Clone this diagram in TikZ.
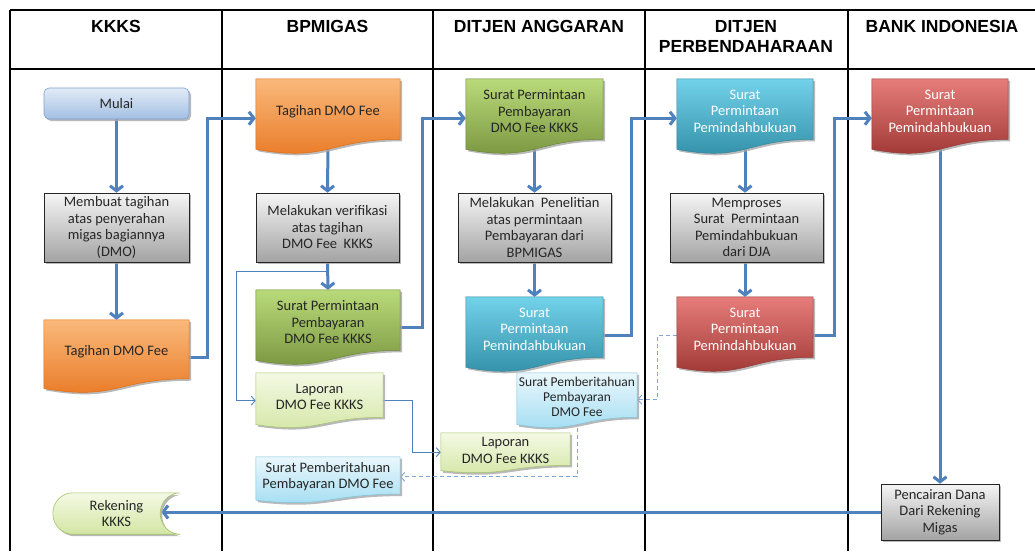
\documentclass[tikz,border=0pt]{standalone}
\usepackage{fontspec}
\setmainfont{Carlito}
\newfontfamily\hdrfont{Liberation Sans}
\usetikzlibrary{arrows.meta,calc,shadows}
\pgfdeclarelayer{bg}\pgfdeclarelayer{shp}
\pgfsetlayers{bg,shp,main}
\definecolor{flowblue}{HTML}{4F81BD}
\definecolor{dashblue}{HTML}{7EA6DC}
\definecolor{orT}{HTML}{FAB97B}\definecolor{orM}{HTML}{F79646}\definecolor{orB}{HTML}{E87722}\definecolor{orD}{HTML}{E46C0A}
\definecolor{grT}{HTML}{B9DA7A}\definecolor{grM}{HTML}{9BBB59}\definecolor{grB}{HTML}{76923C}\definecolor{grD}{HTML}{6A8535}
\definecolor{tlT}{HTML}{72D2EA}\definecolor{tlM}{HTML}{4BACC6}\definecolor{tlB}{HTML}{2E8BA4}\definecolor{tlD}{HTML}{31859C}
\definecolor{rdT}{HTML}{E67D7A}\definecolor{rdM}{HTML}{C0504D}\definecolor{rdB}{HTML}{9A3330}\definecolor{rdD}{HTML}{953735}
\definecolor{lgT}{HTML}{F4F9E4}\definecolor{lgB}{HTML}{D3E6A4}\definecolor{lgD}{HTML}{A4C46A}
\definecolor{lbT}{HTML}{EAF7FC}\definecolor{lbB}{HTML}{9FDCF2}\definecolor{lbD}{HTML}{7FC3DC}
\definecolor{mbT}{HTML}{E2EBF7}\definecolor{mbB}{HTML}{A3BFE3}\definecolor{mbD}{HTML}{7FA0CF}
\definecolor{shadowc}{HTML}{A8A8A8}
\tikzset{
  hdr/.style={font=\hdrfont\bfseries\fontsize{17.5}{20}\selectfont, align=center, inner sep=0pt},
  txt/.style={font=\fontsize{14.5}{16.5}\selectfont, align=center, inner sep=0pt, text=black!85},
  procbox/.style={txt, draw=black!85, line width=0.6pt, top color=black!4, bottom color=black!36,
      drop shadow={shadow xshift=2pt, shadow yshift=-2pt, fill=shadowc, opacity=0.8}},
  startbox/.style={txt, draw=mbD, line width=0.6pt, rounded corners=5pt, top color=mbT, bottom color=mbB,
      drop shadow={shadow xshift=2pt, shadow yshift=-2pt, fill=shadowc, opacity=0.8}},
  docnode/.style={txt},
  whitetxt/.style={text=white},
  smalltxt/.style={font=\fontsize{13.5}{15}\selectfont},
  flow/.style={draw=flowblue, line width=3pt, -{Straight Barb[length=5pt,width=13pt]}},
  thinflow/.style={draw=flowblue, line width=0.9pt, -{Straight Barb[length=4pt,width=9pt]}},
  dashflow/.style={draw=dashblue, line width=0.9pt, dash pattern=on 4pt off 3pt, -{Straight Barb[length=4pt,width=9pt]}},
  gridline/.style={line width=2pt, black},
  shadowfill/.style={fill=shadowc, opacity=0.8},
  orangedoc/.style={top color=orT, middle color=orM, bottom color=orB, draw=orD, line width=0.5pt},
  greendoc/.style={top color=grT, middle color=grM, bottom color=grB, draw=grD, line width=0.5pt},
  tealdoc/.style={top color=tlT, middle color=tlM, bottom color=tlB, draw=tlD, line width=0.5pt},
  reddoc/.style={top color=rdT, middle color=rdM, bottom color=rdB, draw=rdD, line width=0.5pt},
  lgreendoc/.style={top color=lgT, bottom color=lgB, draw=lgD, line width=0.5pt},
  lbluedoc/.style={top color=lbT, bottom color=lbB, draw=lbD, line width=0.5pt},
}
% document shape drawn from the node's rectangle (node = upper 86% of the shape)
\newcommand\docshape[2]{%
  \begin{scope}[transform canvas={xshift=2pt,yshift=-2pt}]
  \path[shadowfill] let \p1=(#1.north west), \p2=(#1.south east), \n1={(\y1-\y2)/0.86}, \n2={(\x1+\x2)/2} in
    (\x1,\y1) -- (\x2,\y1) -- (\x2,{\y1-0.802*\n1}) .. controls ({\n2*1pt},{\y1-0.802*\n1}) and ({\n2*1pt},{\y1-1.107*\n1}) .. (\x1,{\y1-0.934*\n1}) -- cycle;
  \end{scope}
  \path[#2] let \p1=(#1.north west), \p2=(#1.south east), \n1={(\y1-\y2)/0.86}, \n2={(\x1+\x2)/2} in
    (\x1,\y1) -- (\x2,\y1) -- (\x2,{\y1-0.802*\n1}) .. controls ({\n2*1pt},{\y1-0.802*\n1}) and ({\n2*1pt},{\y1-1.107*\n1}) .. (\x1,{\y1-0.934*\n1}) -- cycle;
}
\newcommand\storedshape[2]{%
  \begin{scope}[transform canvas={xshift=2pt,yshift=-2pt}]
  \path[shadowfill] let \p1=(#1.north west), \p2=(#1.south east), \n1={(\y1-\y2)/2} in
    ({\x1+20pt},\y1) -- (\x2,\y1) arc[start angle=90, end angle=270, x radius=20pt, y radius={\n1*1pt}]
    -- ({\x1+20pt},\y2) arc[start angle=270, end angle=90, x radius=20pt, y radius={\n1*1pt}] -- cycle;
  \end{scope}
  \path[#2] let \p1=(#1.north west), \p2=(#1.south east), \n1={(\y1-\y2)/2} in
    ({\x1+20pt},\y1) -- (\x2,\y1) arc[start angle=90, end angle=270, x radius=20pt, y radius={\n1*1pt}]
    -- ({\x1+20pt},\y2) arc[start angle=270, end angle=90, x radius=20pt, y radius={\n1*1pt}] -- cycle;
}
\begin{document}
\begin{tikzpicture}[x=1pt,y=-1pt]
\useasboundingbox (0,0) rectangle (1035,551);
\begin{pgfonlayer}{bg}
  \fill[white] (0,0) rectangle (1035,551);
  \draw[gridline] (10,10) -- (1035,10);
  \draw[gridline] (10,69) -- (1035,69);
  \foreach \gx in {10,222,433,645,848} \draw[gridline] (\gx,10) -- (\gx,551);
\end{pgfonlayer}

% headers
\node[hdr] (hk) at (116,26) {KKKS};
\node[hdr] (hb) at (327.5,26) {BPMIGAS};
\node[hdr] (hd) at (539,26) {DITJEN ANGGARAN};
\node[hdr] (hp) at (746,36) {DITJEN\\PERBENDAHARAAN};
\node[hdr] (hi) at (942,26) {BANK INDONESIA};

% KKKS
\node[startbox, minimum width=145pt, minimum height=31pt] (mulai) at (116.5,103.5) {Mulai};
\node[procbox, minimum width=145pt, minimum height=69pt] (pb1) at (116.5,227.5) {Membuat tagihan\\atas penyerahan\\migas bagiannya\\(DMO)};
\node[docnode, minimum width=145pt, minimum height=62.8pt] (tk) at (116.5,351.4) {Tagihan DMO Fee};
\node[txt, minimum width=127pt, minimum height=41pt] (rek) at (116.5,513.5) {Rekening\\KKKS};

% BPMIGAS
\node[docnode, minimum width=144pt, minimum height=64.5pt] (tb) at (328,111.25) {Tagihan DMO Fee};
\node[procbox, minimum width=143pt, minimum height=69pt] (pb2) at (327.5,227.5) {Melakukan verifikasi\\atas tagihan\\DMO Fee\ \ KKKS};
\node[docnode, minimum width=144pt, minimum height=64.5pt] (sg1) at (328,322.25) {Surat Permintaan\\Pembayaran\\DMO Fee KKKS};
\node[docnode, minimum width=127pt, minimum height=47.3pt] (lap1) at (319.5,396.65) {Laporan\\DMO Fee KKKS};
\node[docnode, minimum width=144pt, minimum height=39.6pt] (sp1) at (328,476.8) {Surat Pemberitahuan\\Pembayaran DMO Fee};

% DITJEN ANGGARAN
\node[docnode, minimum width=137pt, minimum height=64.5pt] (sg2) at (534.5,111.25) {Surat Permintaan\\Pembayaran\\DMO Fee KKKS};
\node[procbox, minimum width=153pt, minimum height=69pt] (pb3) at (534.5,227.5) {Melakukan\ \ Penelitian\\atas permintaan\\Pembayaran dari\\BPMIGAS};
\node[docnode, whitetxt, minimum width=137pt, minimum height=64.5pt] (st1) at (534.5,329.25) {Surat\\Permintaan\\Pemindahbukuan};
\node[docnode, smalltxt, minimum width=120pt, minimum height=47.3pt] (sp2) at (577,396.65) {Surat Pemberitahuan\\Pembayaran\\DMO Fee};
\node[docnode, minimum width=129pt, minimum height=34.4pt] (lap2) at (505.5,450.2) {Laporan\\DMO Fee KKKS};

% DITJEN PERBENDAHARAAN
\node[docnode, whitetxt, minimum width=136pt, minimum height=64.5pt] (st2) at (745,111.25) {Surat\\Permintaan\\Pemindahbukuan};
\node[procbox, minimum width=153pt, minimum height=69pt] (pb4) at (746.5,227.5) {Memproses\\Surat\ \ Permintaan\\Pemindahbukuan\\dari DJA};
\node[docnode, whitetxt, minimum width=136pt, minimum height=64.5pt] (sr1) at (745,329.25) {Surat\\Permintaan\\Pemindahbukuan};

% BANK INDONESIA
\node[docnode, whitetxt, minimum width=136pt, minimum height=64.5pt] (sr2) at (940,111.25) {Surat\\Permintaan\\Pemindahbukuan};
\node[procbox, minimum width=118pt, minimum height=56pt] (pb5) at (940,512) {Pencairan Dana\\Dari Rekening\\Migas};

% shapes
\begin{pgfonlayer}{shp}
  \docshape{tk}{orangedoc}
  \docshape{tb}{orangedoc}
  \docshape{sg1}{greendoc}
  \docshape{sg2}{greendoc}
  \docshape{st1}{tealdoc}
  \docshape{st2}{tealdoc}
  \docshape{sr1}{reddoc}
  \docshape{sr2}{reddoc}
  \docshape{lap1}{lgreendoc}
  \docshape{lap2}{lgreendoc}
  \docshape{sp1}{lbluedoc}
  \docshape{sp2}{lbluedoc}
  \storedshape{rek}{top color=lgT, bottom color=lgB, draw=lgD, line width=0.6pt}
\end{pgfonlayer}

% connectors
\coordinate (br) at ($(pb2.south)!0.32!(sg1.north)$);
\coordinate (rektip) at ([xshift=-19pt]rek.east);
\begin{pgfonlayer}{bg}
  \draw[flow] (mulai.south) -- (pb1.north);
  \draw[flow] (pb1.south) -- (tk.north);
  \draw[flow] ([yshift=-6pt]tk.east) -- ++(18,0) |- ([yshift=-7pt]tb.west);
  \draw[flow] (tb.south) -- (pb2.north);
  \draw[flow] (pb2.south) -- (sg1.north);
  \draw[flow] ([yshift=-5pt]sg1.east) -- ++(22,0) |- ([yshift=-7pt]sg2.west);
  \draw[flow] (sg2.south) -- (pb3.north);
  \draw[flow] (pb3.south) -- (st1.north);
  \draw[flow] ([yshift=-6pt]st1.east) -- ++(28,0) |- ([yshift=-7pt]st2.west);
  \draw[flow] (st2.south) -- (st2.south |- pb4.north);
  \draw[flow] (sr1.north |- pb4.south) -- (sr1.north);
  \draw[flow] ([yshift=-6pt]sr1.east) -- ++(21,0) |- ([yshift=-7pt]sr2.west);
  \draw[flow] (sr2.south) -- (pb5.north);
  \draw[flow] (pb5.west) -- (pb5.west -| rektip);
  \draw[thinflow] (br) -- ++(-91,0) |- ([yshift=-4pt]lap1.west);
  \draw[thinflow] ([yshift=-4pt]lap1.east) -- ++(29,0) |- ([yshift=-2pt]lap2.west);
  \draw[dashflow] ([yshift=-6pt]sr1.west) -- ++(-19,0) |- ([yshift=-3pt]sp2.east);
  \draw[dashflow] (sp2.south) |- (sp1.east);
\end{pgfonlayer}
\end{tikzpicture}
\end{document}
